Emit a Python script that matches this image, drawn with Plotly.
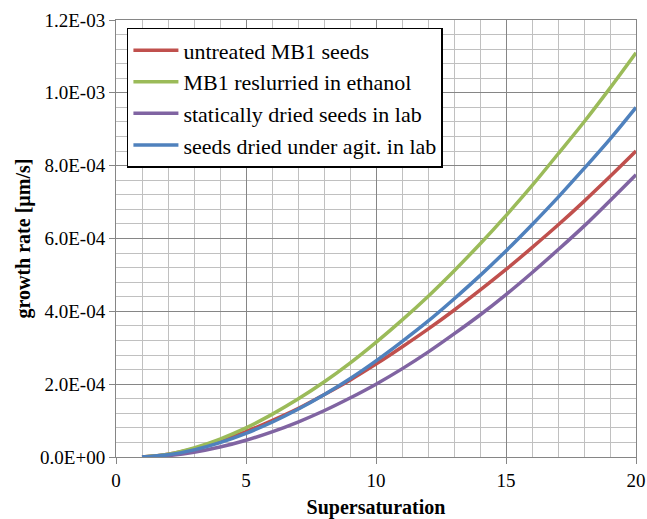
import plotly.graph_objects as go

supersaturation = list(range(1, 21))

untreated_mb1 = [0, 7.7e-6, 2.3e-5, 4.4e-5, 7.0e-5, 1.0e-4, 1.33e-4, 1.71e-4, 2.11e-4, 2.55e-4,
                 3.02e-4, 3.51e-4, 4.03e-4, 4.58e-4, 5.15e-4, 5.75e-4, 6.37e-4, 7.02e-4, 7.70e-4, 8.40e-4]
mb1_ethanol = [0, 7.7e-6, 2.49e-5, 4.93e-5, 8.0e-5, 1.17e-4, 1.59e-4, 2.06e-4, 2.58e-4, 3.15e-4,
               3.76e-4, 4.41e-4, 5.11e-4, 5.85e-4, 6.63e-4, 7.45e-4, 8.32e-4, 9.2e-4, 1.013e-3, 1.11e-3]
static_dried = [0, 3.7e-6, 1.31e-5, 2.73e-5, 4.6e-5, 6.9e-5, 9.6e-5, 1.27e-4, 1.62e-4, 2.0e-4,
                2.42e-4, 2.88e-4, 3.38e-4, 3.90e-4, 4.46e-4, 5.06e-4, 5.69e-4, 6.34e-4, 7.04e-4, 7.75e-4]
agit_dried = [0, 5.9e-6, 1.96e-5, 3.95e-5, 6.5e-5, 9.55e-5, 1.31e-4, 1.71e-4, 2.15e-4, 2.64e-4,
              3.17e-4, 3.73e-4, 4.34e-4, 4.98e-4, 5.66e-4, 6.38e-4, 7.13e-4, 7.92e-4, 8.73e-4, 9.6e-4]

series_names = ["untreated MB1 seeds", "MB1 reslurried in ethanol",
                "statically dried seeds in lab", "seeds dried under agit. in lab"]
series_values = [untreated_mb1, mb1_ethanol, static_dried, agit_dried]
series_colors = ["#C0504D", "#9BBB59", "#8064A2", "#4F81BD"]

x_tick_vals = [0, 5, 10, 15, 20]
y_tick_vals = [0, 2e-4, 4e-4, 6e-4, 8e-4, 1.0e-3, 1.2e-3]
y_tick_text = ["0.0E+00", "2.0E-04", "4.0E-04", "6.0E-04", "8.0E-04", "1.0E-03", "1.2E-03"]

font_family = "Liberation Serif, Times New Roman, serif"

fig = go.Figure()
for name, vals, col in zip(series_names, series_values, series_colors):
    fig.add_trace(go.Scatter(x=supersaturation, y=vals, mode="lines", name=name,
                             line=dict(color=col, width=3.5, shape="spline")))

fig.update_layout(
    width=647, height=519,
    margin=dict(l=116, r=11, t=20, b=62),
    paper_bgcolor="white", plot_bgcolor="white",
    font=dict(family=font_family, color="black", size=19),
    showlegend=True,
    legend=dict(x=0.021, y=0.982, xanchor="left", yanchor="top",
                bgcolor="white", bordercolor="black", borderwidth=1.5,
                font=dict(family=font_family, size=22, color="black"),
                tracegroupgap=0, itemwidth=45,
                entrywidth=327, entrywidthmode="pixels"),
)

fig.update_xaxes(
    range=[0, 20], tickvals=x_tick_vals, ticks="outside", ticklen=6, tickcolor="#868686",
    showline=True, linecolor="#868686", linewidth=1, mirror=True,
    showgrid=True, gridcolor="#868686", gridwidth=1, zeroline=False, automargin=False,
    minor=dict(dtick=1, showgrid=True, gridcolor="#C0C0C0", gridwidth=1, ticks=""),
    tickfont=dict(family=font_family, size=19),
    title=dict(text="<b>Supersaturation</b>", font=dict(family=font_family, size=20), standoff=12),
)
fig.update_yaxes(
    range=[0, 1.2e-3], tickvals=y_tick_vals, ticktext=y_tick_text,
    ticks="outside", ticklen=6, tickcolor="#868686",
    showline=True, linecolor="#868686", linewidth=1, mirror=True,
    showgrid=True, gridcolor="#868686", gridwidth=1, zeroline=False, automargin=False,
    minor=dict(dtick=4e-5, tick0=0, showgrid=True, gridcolor="#C0C0C0", gridwidth=1, ticks=""),
    tickfont=dict(family=font_family, size=19),
    title=dict(text="<b>growth rate [µm/s]</b>", font=dict(family=font_family, size=20), standoff=4),
)

fig.write_html("out.html", config={"displayModeBar": False},
               post_script="document.body.style.margin='0';")
